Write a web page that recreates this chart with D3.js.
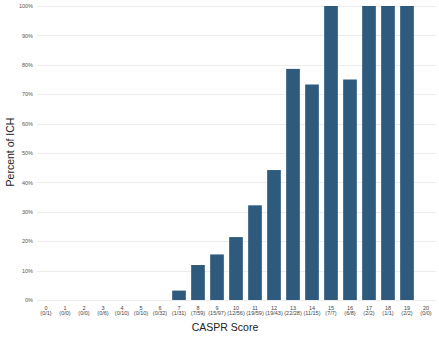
<!DOCTYPE html>
<html><head><meta charset="utf-8">
<script src="https://cdn.jsdelivr.net/npm/d3@7"></script>
<style>html,body{margin:0;padding:0;background:#fff;}svg{display:block;}</style>
</head><body>
<svg id="c" width="439" height="338"></svg>
<script>
const scores = ["0","1","2","3","4","5","6","7","8","9","10","11","12","13","14","15","16","17","18","19","20"];
const counts = ["(0/1)","(0/0)","(0/0)","(0/6)","(0/10)","(0/10)","(0/32)","(1/31)","(7/59)","(15/97)","(12/56)","(19/59)","(19/43)","(22/28)","(11/15)","(7/7)","(6/8)","(2/2)","(1/1)","(2/2)","(0/0)"];
const percents = [0,0,0,0,0,0,0,3.2,11.9,15.5,21.4,32.2,44.2,78.6,73.3,100,75,100,100,100,0];
const yTicks = [0,10,20,30,40,50,60,70,80,90,100];

const svg = d3.select("#c");
const mLeft = 36.5, mRight = 435.5, mTop = 6, mBottom = 300;
const x = d3.scaleBand().domain(scores).range([mLeft, mRight]).paddingInner(0.28).paddingOuter(0.14);
const y = d3.scaleLinear().domain([0,100]).range([mBottom, mTop]);

// gridlines
svg.append("g").selectAll("line").data(yTicks).join("line")
  .attr("x1", 37).attr("x2", 436)
  .attr("y1", d => Math.round(y(d)) + 0.5).attr("y2", d => Math.round(y(d)) + 0.5)
  .attr("stroke", "#ececec").attr("stroke-width", 1);

// y axis labels
const yAxis = d3.axisLeft(y).tickValues(yTicks).tickFormat(d => d + "%").tickSize(0).tickPadding(4);
const ya = svg.append("g").attr("transform", `translate(37,0)`).call(yAxis);
ya.select(".domain").remove();
ya.selectAll("text").attr("font-family", "Liberation Sans, Arial, sans-serif").attr("font-size", 5.5).attr("fill", "#555");

// bars
svg.append("g").selectAll("rect").data(percents.map((v,i)=>({s:scores[i], v}))).join("rect")
  .attr("x", d => x(d.s)).attr("width", x.bandwidth())
  .attr("y", d => y(d.v)).attr("height", d => y(0) - y(d.v))
  .attr("fill", "#2e5b7d");

// x axis labels
const xa = svg.append("g").attr("transform", `translate(0,${mBottom})`)
  .call(d3.axisBottom(x).tickSize(0).tickPadding(6));
xa.select(".domain").remove();
xa.selectAll("text").attr("font-family", "Liberation Sans, Arial, sans-serif").attr("font-size", 5.5).attr("fill", "#444");
svg.append("g").selectAll("text").data(scores).join("text")
  .attr("x", d => x(d) + x.bandwidth()/2).attr("y", 315)
  .attr("text-anchor", "middle")
  .attr("font-family", "Liberation Sans, Arial, sans-serif").attr("font-size", 5.5).attr("fill", "#444")
  .text((d,i) => counts[i]);

// axis titles
svg.append("text").attr("x", 225).attr("y", 331).attr("text-anchor", "middle")
  .attr("font-family", "Liberation Sans, Arial, sans-serif").attr("font-size", 10.5).attr("fill", "#222")
  .text("CASPR Score");
svg.append("text").attr("transform", "translate(14,152) rotate(-90)").attr("text-anchor", "middle")
  .attr("font-family", "Liberation Sans, Arial, sans-serif").attr("font-size", 10.5).attr("fill", "#222")
  .text("Percent of ICH");
</script>
</body></html>
